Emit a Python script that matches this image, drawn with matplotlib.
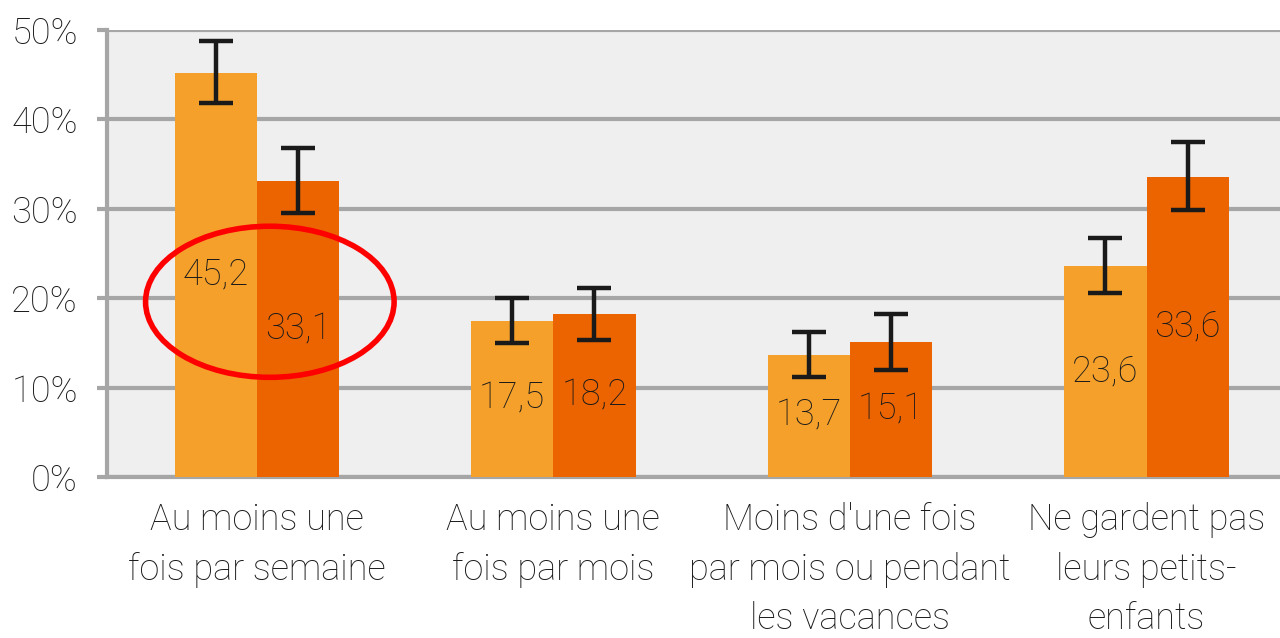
import matplotlib
matplotlib.use("Agg")
import matplotlib.pyplot as plt
from matplotlib.patches import Ellipse
import numpy as np

categories = ["Au moins une\nfois par semaine", "Au moins une\nfois par mois",
              "Moins d'une fois\npar mois ou pendant\nles vacances", "Ne gardent pas\nleurs petits-\nenfants"]
serie_a = [45.2, 17.5, 13.7, 23.6]
serie_b = [33.1, 18.2, 15.1, 33.6]
a_low = [41.8, 15.0, 11.2, 20.6]
a_high = [48.8, 20.0, 16.2, 26.7]
b_low = [29.5, 15.3, 12.0, 29.9]
b_high = [36.8, 21.1, 18.2, 37.5]
yticks = [0, 10, 20, 30, 40, 50]
ytick_labels = ["0%", "10%", "20%", "30%", "40%", "50%"]

plt.rcParams['font.family'] = ['Roboto', 'DejaVu Sans']
c_light = "#F4A02A"
c_dark = "#EC6400"
grid_c = "#A6A6A6"
txt_c = "#1A1A1A"
fs = 26

fig = plt.figure(figsize=(12.8, 6.38), dpi=100)
ax = fig.add_axes([107/1280, 161/638, 1 - 107/1280, (477-30)/638])
ax.set_facecolor("#EFEFEF")

x = np.arange(len(categories))
w = 0.277
ax.bar(x - w/2, serie_a, w, color=c_light, zorder=3)
ax.bar(x + w/2, serie_b, w, color=c_dark, zorder=3)

a = np.array(serie_a); b = np.array(serie_b)
ax.errorbar(x - w/2, a, yerr=[a - np.array(a_low), np.array(a_high) - a], fmt='none',
            ecolor="#1a1a1a", elinewidth=3.2, capsize=12, capthick=3.2, zorder=4)
ax.errorbar(x + w/2, b, yerr=[b - np.array(b_low), np.array(b_high) - b], fmt='none',
            ecolor="#1a1a1a", elinewidth=3.2, capsize=12, capthick=3.2, zorder=4)

for xi, v in zip(x - w/2, serie_a):
    ax.text(xi, v/2, f"{v:.1f}".replace('.', ','), ha='center', va='center',
            fontsize=fs, color=txt_c, fontweight='light', zorder=5)
for xi, v in zip(x + w/2, serie_b):
    ax.text(xi, v/2, f"{v:.1f}".replace('.', ','), ha='center', va='center',
            fontsize=fs, color=txt_c, fontweight='light', zorder=5)

ell = Ellipse((0.044, 19.6), 0.838, 16.9, fill=False, edgecolor="#FF0000", lw=4, zorder=6)
ax.add_patch(ell)

ax.set_xlim(-0.505, 3.45)
ax.set_ylim(0, 50)
ax.set_yticks(yticks)
ax.set_yticklabels(ytick_labels, fontsize=fs, color=txt_c, fontweight='light')
ax.set_xticks(x)
ax.set_xticklabels(categories, fontsize=fs, color=txt_c, fontweight='light', linespacing=1.49)
ax.tick_params(axis='y', length=7, width=3, color=grid_c, pad=14)
ax.tick_params(axis='x', length=0, pad=18)
ax.grid(axis='y', color=grid_c, lw=3, zorder=1)
ax.set_axisbelow(True)
for s in ['top', 'right']:
    ax.spines[s].set_visible(False)
for s in ['left', 'bottom']:
    ax.spines[s].set_color(grid_c)
    ax.spines[s].set_linewidth(3)
    ax.spines[s].set_zorder(2)

fig.savefig("out.png", dpi=100)
